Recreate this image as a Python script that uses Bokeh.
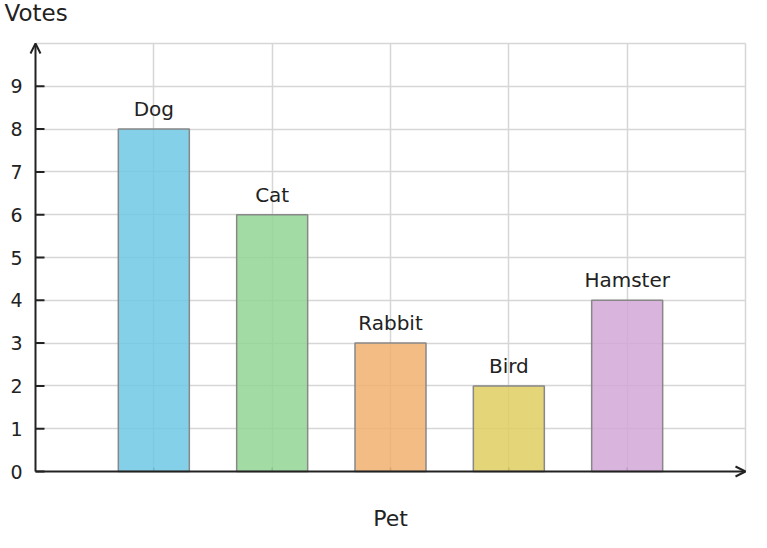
from bokeh.plotting import figure
from bokeh.models import FixedTicker, Range1d, Arrow, OpenHead, Label, ColumnDataSource
from bokeh.core.properties import value
from bokeh.embed import file_html
from bokeh.resources import INLINE

pets = ["Dog", "Cat", "Rabbit", "Bird", "Hamster"]
votes = [8, 6, 3, 2, 4]
colors = ["#70c8e5", "#92d694", "#f0b06e", "#e0ce62", "#d2a7d6"]
y_ticks = [0, 1, 2, 3, 4, 5, 6, 7, 8, 9]
y_tick_labels = ["0", "1", "2", "3", "4", "5", "6", "7", "8", "9"]
Y_MAX = 10
x_title = "Pet"
y_title = "Votes"

FONT = "DejaVu Sans"
INK = "#222222"
xs = [i + 1 for i in range(len(pets))]
X_MAX = len(pets) + 1

# layout (pixels): the plot frame covers the whole canvas, axes are drawn by hand
W, H = 751, 532
AX_L, AX_R = 35, 745      # pixel of x=0 and x=X_MAX
AX_B, AX_T = 471, 43      # pixel of y=0 and y=Y_MAX
sx = (AX_R - AX_L) / X_MAX
sy = (AX_B - AX_T) / Y_MAX

src = ColumnDataSource(dict(x=xs, top=votes, pet=pets, color=colors))

p = figure(width=W, height=H, output_backend="svg", toolbar_location=None,
           x_range=Range1d(-AX_L / sx, X_MAX + (W - AX_R) / sx),
           y_range=Range1d(-(H - AX_B) / sy, Y_MAX + AX_T / sy),
           min_border=0)
p.outline_line_color = None
p.background_fill_color = "white"
p.border_fill_color = "white"
p.xaxis.visible = False
p.yaxis.visible = False

# grid
xg, yg = p.xgrid[0], p.ygrid[0]
xg.ticker = FixedTicker(ticks=list(range(1, X_MAX + 1)))
yg.ticker = FixedTicker(ticks=list(range(1, Y_MAX + 1)))
for g in (xg, yg):
    g.grid_line_color = "#d6d6d6"
    g.grid_line_width = 1.5
xg.cross_bounds = (0, Y_MAX)
yg.cross_bounds = (0, X_MAX)

# small x ticks (under bars)
p.segment(x0=xs, y0=[0] * len(xs), x1=xs, y1=[4 / sy] * len(xs), line_color="#555555", line_width=1.5)

# bars
p.vbar(x="x", top="top", width=0.6, bottom=0, source=src, fill_color="color",
       fill_alpha=0.85, line_color="#888888", line_width=1.5)

# bar labels
p.text(x="x", y="top", text="pet", source=src, text_align="center", text_baseline="bottom",
       y_offset=-8, text_font=value(FONT), text_font_size="20px", text_color=INK)

# y ticks (inside) and tick labels
p.segment(x0=[0] * len(y_ticks), y0=y_ticks, x1=[9 / sx] * len(y_ticks), y1=y_ticks,
          line_color=INK, line_width=2)
p.text(x=[0] * len(y_ticks), y=y_ticks, text=y_tick_labels, x_offset=-13, text_align="right",
       text_baseline="middle", text_font=value(FONT), text_font_size="19px", text_color=INK)

# axis lines with arrow heads
p.add_layout(Arrow(x_start=0, y_start=0, x_end=0, y_end=Y_MAX, line_color=INK, line_width=2,
                   end=OpenHead(size=10, line_width=2, line_color=INK)))
p.add_layout(Arrow(x_start=0, y_start=0, x_end=X_MAX, y_end=0, line_color=INK, line_width=2,
                   end=OpenHead(size=10, line_width=2, line_color=INK)))

# axis titles
p.add_layout(Label(x=0, y=Y_MAX, x_offset=-31, y_offset=31, text=y_title, text_align="left",
                   text_baseline="middle", text_font=FONT, text_font_size="23px", text_color=INK))
p.add_layout(Label(x=X_MAX / 2, y=0, y_offset=-47, text=x_title, text_align="center",
                   text_baseline="middle", text_font=FONT, text_font_size="22px", text_color=INK))

open("out.html", "w").write(file_html(p, INLINE))
